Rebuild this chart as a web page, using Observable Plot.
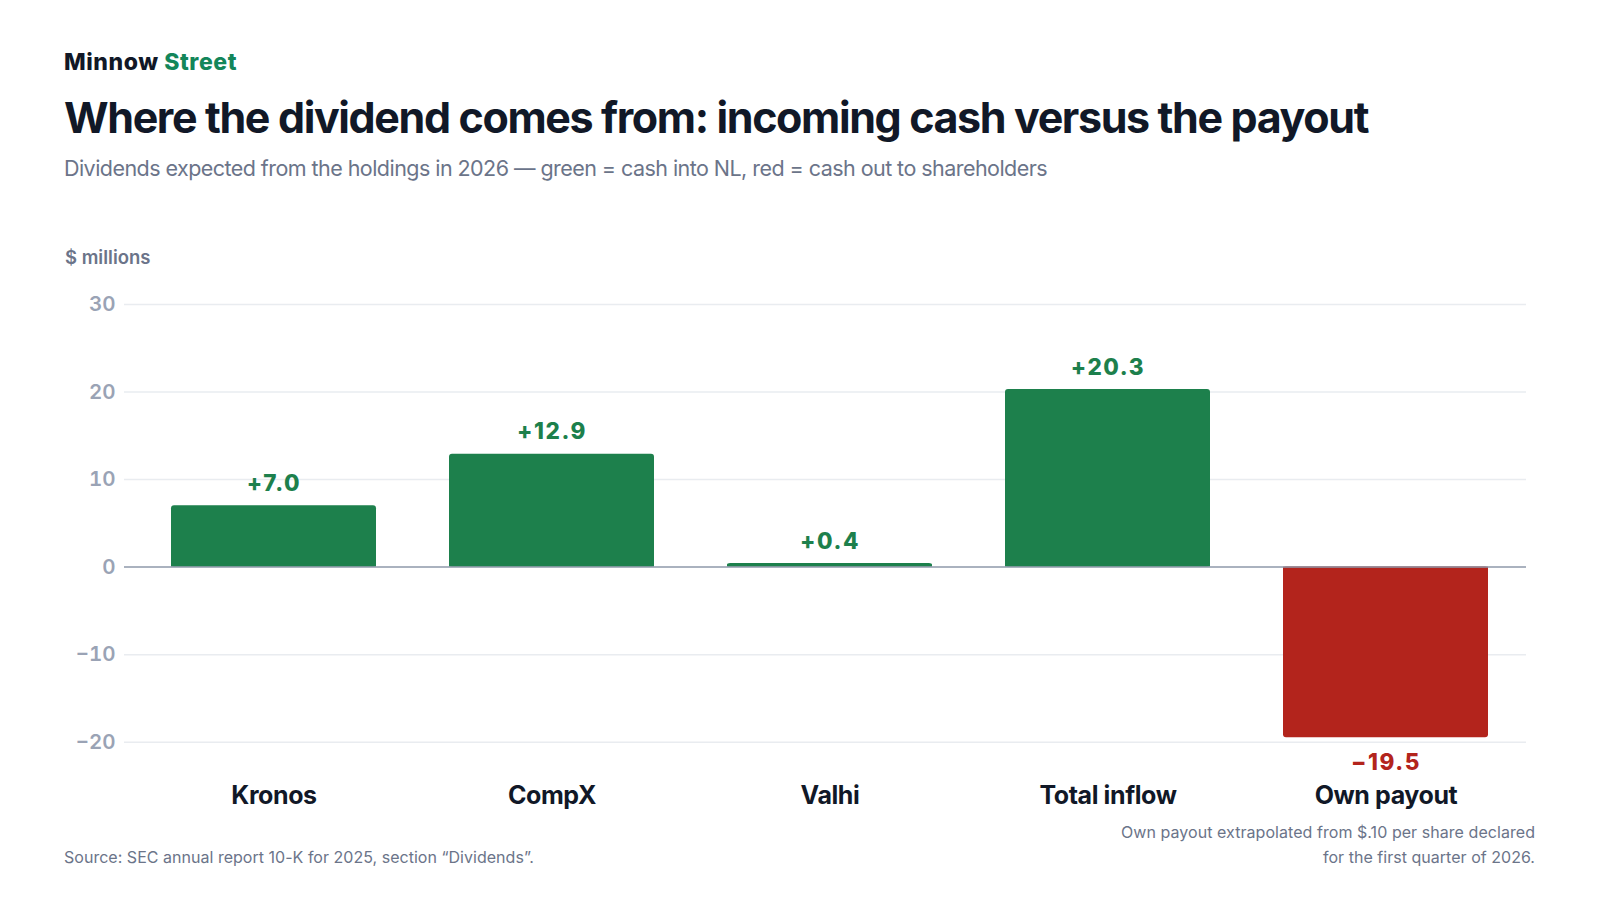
<!DOCTYPE html>
<html>
<head>
<meta charset="utf-8">
<script src="https://cdn.jsdelivr.net/npm/d3@7"></script>
<script src="https://cdn.jsdelivr.net/npm/@observablehq/plot@0.6"></script>
<style>
  html, body { margin: 0; padding: 0; background: #ffffff; }
  body { width: 1600px; height: 900px; position: relative; overflow: hidden; font-family: Inter, "Noto Sans", sans-serif; }
  .abs { position: absolute; white-space: nowrap; line-height: 1; }
  #brand { left: 64px; top: 51px; font-size: 23px; font-weight: 800; color: #111827; }
  #brand span { color: #13865a; }
  #title { left: 64px; top: 96px; font-size: 43px; font-weight: 700; color: #111827; }
  #subtitle { left: 64px; top: 158px; font-size: 21.5px; font-weight: 400; color: #6b7489; }
  #unit { left: 65px; top: 248px; font-size: 18.5px; font-weight: 600; color: #6b7489; }
  #chart { position: absolute; left: 0; top: 280px; }
  #source { left: 64px; top: 849px; font-size: 16px; color: #6b7489; }
  .note { right: 65px; font-size: 16px; color: #6b7489; text-align: right; }
  #note1 { top: 824.2px; }
  #note2 { top: 848.7px; }
</style>
</head>
<body>
<div id="brand" class="abs">Minnow <span>Street</span></div>
<div id="title" class="abs">Where the dividend comes from: incoming cash versus the payout</div>
<div id="subtitle" class="abs">Dividends expected from the holdings in 2026 — green = cash into NL, red = cash out to shareholders</div>
<div id="unit" class="abs">$ millions</div>
<div id="chart"></div>
<div id="source" class="abs">Source: SEC annual report 10-K for 2025, section “Dividends”.</div>
<div id="note1" class="abs note">Own payout extrapolated from $.10 per share declared</div>
<div id="note2" class="abs note">for the first quarter of 2026.</div>
<script>
// ---- data ----
const categories = ["Kronos", "CompX", "Valhi", "Total inflow", "Own payout"];
const values = [7.0, 12.9, 0.4, 20.3, -19.5];
const yTicks = [-20, -10, 0, 10, 20, 30];
const gridTicks = [-20, -10, 10, 20, 30];

const GREEN = "#1d804c";
const RED = "#b3241c";

const rows = categories.map((c, i) => ({category: c, value: values[i]}));
const fmtValue = v => (v < 0 ? "\u2212" : "+") + Math.abs(v).toFixed(1);
const fmtTick = v => (v < 0 ? "\u2212" : "") + Math.abs(v);
// square off the corners that sit on the zero baseline
const cornerUnits = 0.34;

const chart = Plot.plot({
  width: 1600,
  height: 532,
  marginTop: 24,
  marginLeft: 124,
  marginRight: 74,
  marginBottom: 70.3,
  style: {fontFamily: "Inter, 'Noto Sans', sans-serif", background: "transparent", overflow: "visible"},
  x: {domain: categories, range: [133.5, 1526], paddingInner: 0.262, paddingOuter: 0.131, label: null},
  y: {domain: [-20, 30], range: [461.7, 24], label: null},
  marks: [
    Plot.ruleY(gridTicks, {stroke: "#e9ecf0", strokeWidth: 1.5}),
    Plot.barY(rows, {x: "category", y: "value", fill: d => d.value < 0 ? RED : GREEN, rx: 3}),
    Plot.barY(rows, {x: "category", y1: 0, y2: d => Math.sign(d.value) * Math.min(Math.abs(d.value) * 0.5, cornerUnits), fill: d => d.value < 0 ? RED : GREEN}),
    Plot.ruleY([0], {stroke: "#8e98aa", strokeWidth: 1.5}),
    Plot.text(rows.filter(d => d.value >= 0), {x: "category", y: "value", text: d => fmtValue(d.value), dy: -22, fill: GREEN, fontSize: 22.5, fontWeight: 800}),
    Plot.text(rows.filter(d => d.value < 0), {x: "category", y: "value", text: d => fmtValue(d.value), dy: 24.5, fill: RED, fontSize: 22.5, fontWeight: 800}),
    Plot.axisY({ticks: yTicks, tickSize: 0, tickPadding: 9, tickFormat: fmtTick, fontSize: 20.5, fontWeight: 600, color: "#9aa3b5", label: null}),
    Plot.axisX({anchor: "bottom", tickSize: 0, tickPadding: 44, fontSize: 25, fontWeight: 700, color: "#111827", label: null})
  ]
});
document.getElementById("chart").appendChild(chart);

// value labels are set slightly wider in the reference
d3.select(chart).selectAll('g[aria-label="text"] text').attr("letter-spacing", "1.6px");
d3.select(chart).selectAll('g[aria-label="x-axis tick label"] text').attr("letter-spacing", "-0.4px");

// fit header / footer texts to the measured widths of the reference
const targets = [["brand", 173], ["title", 1304], ["subtitle", 983], ["source", 470], ["note1", 414], ["note2", 212]];
function fitAll() {
  for (const [id, target] of targets) {
    const el = document.getElementById(id);
    el.style.letterSpacing = "0px";
    const w = el.getBoundingClientRect().width;
    const n = el.textContent.length;
    el.style.letterSpacing = ((target - w) / n) + "px";
  }
}
fitAll();
if (document.fonts && document.fonts.ready) document.fonts.ready.then(fitAll);
</script>
</body>
</html>
